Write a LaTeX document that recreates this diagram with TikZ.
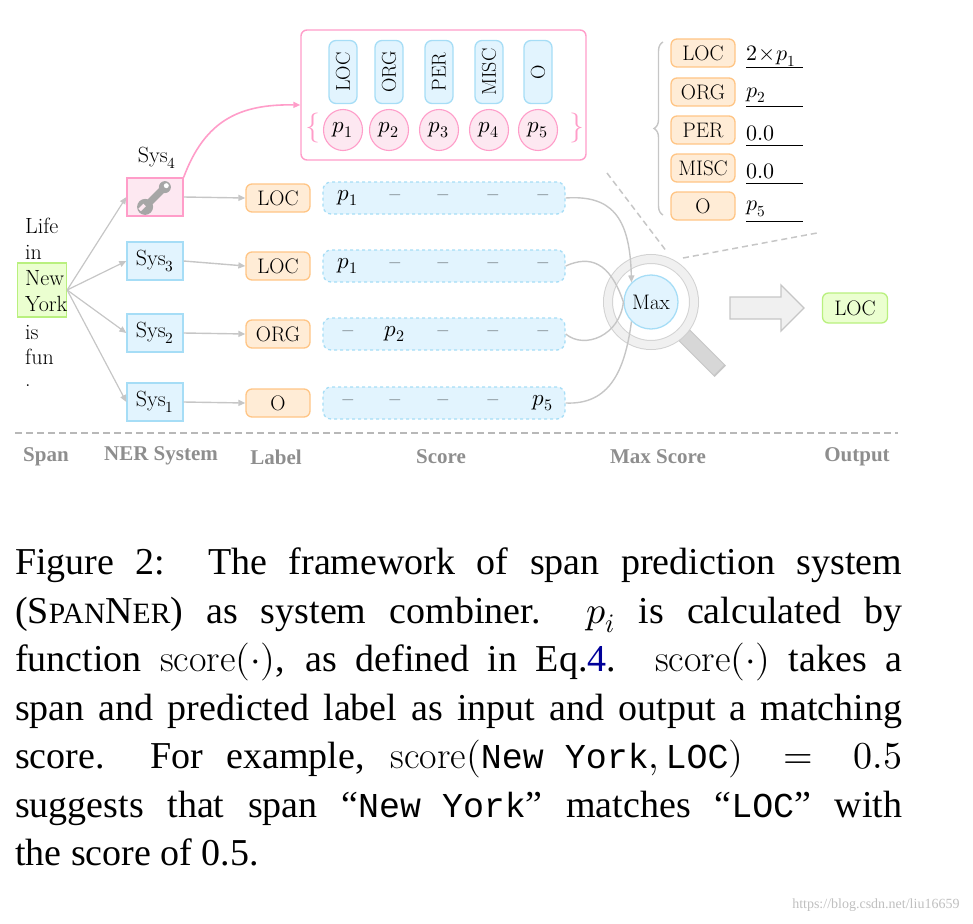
\documentclass[tikz,border=0pt]{standalone}
\usepackage{fontspec}
\usepackage{unicode-math}
\setmathfont{Latin Modern Math}
\newfontfamily\capfont{Liberation Serif}
\newfontfamily\capmono{Liberation Mono}[Scale=0.92]
\newcommand\ctt[1]{\mbox{\capmono #1}}
\usetikzlibrary{arrows.meta,calc,decorations.pathreplacing,shapes.geometric}
\definecolor{bfill}{HTML}{E2F4FE}\definecolor{bdraw}{HTML}{A6DDF6}
\definecolor{ofill}{HTML}{FFECD6}\definecolor{odraw}{HTML}{FFC585}
\definecolor{pfill}{HTML}{FDE8F1}\definecolor{pdraw}{HTML}{FF9DC9}
\definecolor{gfill}{HTML}{EBFFD0}\definecolor{gdraw}{HTML}{B9F07E}
\definecolor{lg}{HTML}{C6C6C6}\definecolor{colg}{HTML}{8E8E8E}
\begin{document}
\begin{tikzpicture}[x=1pt,y=-1pt,
 fz/.style={font=\fontsize{#1}{#1}\selectfont},
 sys/.style={draw=bdraw,fill=bfill,line width=1.3pt,minimum width=56pt,minimum height=38pt,fz=22,inner sep=0pt},
 lab/.style={draw=odraw,fill=ofill,line width=1.3pt,rounded corners=6pt,minimum width=64pt,minimum height=28pt,fz=21,inner sep=0pt},
 score/.style={draw=bdraw,fill=bfill,line width=1.3pt,dashed,rounded corners=8pt,minimum width=242pt,minimum height=32pt},
 vlab/.style={draw=bdraw,fill=bfill,line width=1.3pt,rounded corners=7pt,minimum width=28pt,minimum height=63pt,inner sep=0pt},
 pc/.style={draw=pdraw,fill=pfill,line width=1.1pt,ellipse,minimum width=39pt,minimum height=41pt,inner sep=0pt,fz=23},
 garr/.style={draw=lg,line width=1.4pt,-{Triangle[length=7pt,width=6pt]}},
 word/.style={fz=22,inner sep=0pt,anchor=west},
 col/.style={font=\capfont\bfseries\fontsize{21}{21}\selectfont,text=colg},
 cell/.style={fz=23}]
\useasboundingbox (0,0) rectangle (973,923);
% span
\node[draw=gdraw,fill=gfill,line width=1.3pt,minimum width=49pt,minimum height=54pt,inner sep=0pt] (ny) at (42,290) {};
\node[word] (w1) at (25,226) {Life};
\node[word] (w2) at (25,252) {in};
\node[word] (w3) at (25,278) {New};
\node[word] (w4) at (25,304) {York};
\node[word] (w5) at (25,332) {is};
\node[word] (w6) at (25,357) {fun};
\node[word] (w7) at (25,386) {.};
% systems
\node[sys,draw=pdraw,fill=pfill] (s4) at (155,197) {};
\node[fz=22] (s4l) at (157,158) {Sys$_4$};
\node[sys] (s3) at (155,261) {Sys$_3$};
\node[sys] (s2) at (155,333) {Sys$_2$};
\node[sys] (s1) at (155,402) {Sys$_1$};
% wrench
\begin{scope}[shift={(155,197)},rotate=45]
\draw[line width=7pt,draw=gray!70,line cap=round] (-12,0) -- (12,0);
\fill[gray!70] (-14,0) circle (8pt);
\fill[pfill] (-20,0) rectangle (-13,-3.5);
\fill[gray!70] (14,0) circle (6pt);
\fill[white] (16,0) circle (2.5pt);
\end{scope}
\foreach \s in {s4,s3,s2,s1}{\draw[garr,line width=1.2pt] (ny.east) -- (\s.west);}
% labels
\node[lab] (l4) at (278,198) {LOC};
\node[lab] (l3) at (278,266) {LOC};
\node[lab] (l2) at (278,334) {ORG};
\node[lab] (l1) at (278,403) {O};
\foreach \a/\b in {s4/l4,s3/l3,s2/l2,s1/l1}{\draw[garr] (\a.east) -- (\b.west);}
% scores
\node[score] (c4) at (444,198) {};
\node[score] (c3) at (444,266) {};
\node[score] (c2) at (444,334) {};
\node[score] (c1) at (444,403) {};
\node[cell] at (348,198) {$p_1$};\node[cell] at (348,266) {$p_1$};
\node[cell] at (395,334) {$p_2$};\node[cell] at (543,403) {$p_5$};
\foreach \x in {395,443,493,543}{\node[cell] at (\x,198) {--};\node[cell] at (\x,266) {--};}
\foreach \x in {348,443,493,543}{\node[cell] at (\x,334) {--};}
\foreach \x in {348,395,443,493}{\node[cell] at (\x,403) {--};}
% top pink box
\node[draw=pdraw,line width=1.4pt,rounded corners=6pt,minimum width=285pt,minimum height=130pt] (top) at (443.5,95) {};
\foreach \x/\t/\n in {343/LOC/1,389/ORG/2,439/PER/3,489/MISC/4,538/O/5}{
 \node[vlab] (v\n) at (\x,72) {\rotatebox{90}{\fontsize{20}{20}\selectfont\t}};
 \node[pc] (p\n) at (\x,130) {$p_\n$};}
\node[text=pdraw,fz=30] (lb) at (313,128) {$\{$};
\node[text=pdraw,fz=30] (rb) at (577,128) {$\}$};
\draw[draw=pdraw,line width=1.6pt,-{Triangle[length=7pt,width=6pt]}] (s4.north east) .. controls (205,120) and (240,104) .. (top.west |- 0,105);
% max score
\coordinate (mg) at (651,302);
\draw[line width=16pt,draw=gray!45,line cap=butt] ($(mg)+(45:46)$) -- ($(mg)+(45:98)$);
\draw[line width=14pt,draw=lg!70] ($(mg)+(45:48)$) -- ($(mg)+(45:96)$);
\draw[line width=10pt,draw=gray!35] (mg) circle (43pt);
\draw[line width=8pt,draw=gray!12] (mg) circle (43pt);
\node[circle,draw=bdraw,fill=bfill,line width=1.3pt,minimum size=54pt,inner sep=0pt,fz=21] (max) at (mg) {Max};
\draw[draw=lg,line width=1.4pt,-{Triangle[length=7pt,width=6pt]}] (c4.east) .. controls (610,195) and (630,215) .. (max.north west);
\draw[draw=lg,line width=1.4pt] (c3.east) .. controls (590,255) and (610,262) .. (max.west);
\draw[draw=lg,line width=1.4pt] (c2.east) .. controls (585,350) and (620,335) .. (max.west);
\draw[draw=lg,line width=1.4pt] (c1.east) .. controls (610,405) and (625,370) .. (max.south west);
% dashed zoom lines
\coordinate (d1a) at (607,173);\coordinate (d1b) at (667,252);
\coordinate (d2a) at (683,258);\coordinate (d2b) at (817,233);
\draw[lg,line width=1.5pt,dash pattern=on 6pt off 4pt] (d1a) -- (d1b);
\draw[lg,line width=1.5pt,dash pattern=on 6pt off 4pt] (d2a) -- (d2b);
% right table
\foreach \y/\t/\v/\n in {53/LOC/2\!\times\! p_1/1,92/ORG/p_2/2,130/PER/0.0/3,168/MISC/0.0/4,206/O/p_5/5}{
 \node[lab,minimum width=64pt] (r\n) at (703,\y) {\t};
 \node[fz=22,anchor=west,inner sep=0pt] (rv\n) at (746,\y+3) {$\v$};
 \draw[line width=1pt] (746,\y+15) -- (803,\y+15);}
\draw[lg,line width=1.4pt,decorate,decoration={brace,amplitude=9pt}] (663,215) -- (663,42);
% big arrow
\draw[draw=lg,fill=gray!12,line width=1.3pt,line join=miter] (730,297) -- (781,297) -- (781,285) -- (804,308) -- (781,331) -- (781,319) -- (730,319) -- cycle;
\node[draw=gdraw,fill=gfill,line width=1.3pt,rounded corners=6pt,minimum width=65pt,minimum height=30pt,fz=21,inner sep=0pt] (out) at (855,308) {LOC};
% separator and column labels
\draw[lg!80!gray,line width=1.5pt,dash pattern=on 7pt off 4pt] (15,433) -- (898,433);
\node[col] (k1) at (46,457) {Span};
\node[col] (k2) at (161,456) {NER System};
\node[col] (k3) at (276,457) {Label};
\node[col] (k4) at (441,457) {Score};
\node[col] (k5) at (658,457) {Max Score};
\node[col] (k6) at (857,457) {Output};
% caption
\node[anchor=north west,inner sep=0pt,text width=887pt,align=justify] (cap) at (15,548) {\capfont\fontsize{38}{48.5}\selectfont\hyphenpenalty=10000
Figure 2:\ \ The framework of span prediction system\linebreak
(S{\fontsize{29.5}{29}\selectfont PAN}N{\fontsize{29.5}{29}\selectfont ER}) as system combiner.\ \ $p_i$ is calculated by\linebreak
function $\mathrm{score}(\cdot)$, as defined in Eq.\textcolor{blue!60!black}{4}. $\mathrm{score}(\cdot)$ takes a\linebreak
span and predicted label as input and output a matching\linebreak
score.\ \ For example, $\mathrm{score}(\mbox{\ctt{New York}},\mbox{\ctt{LOC}}) = 0.5$\linebreak
suggests that span “\ctt{New York}” matches “\ctt{LOC}” with\linebreak
the score of 0.5.\par};
\node[anchor=south east,text=gray!50,font=\capfont\fontsize{14}{14}\selectfont] (wm) at (963,915) {https://blog.csdn.net/liu16659};
\end{tikzpicture}
\end{document}
